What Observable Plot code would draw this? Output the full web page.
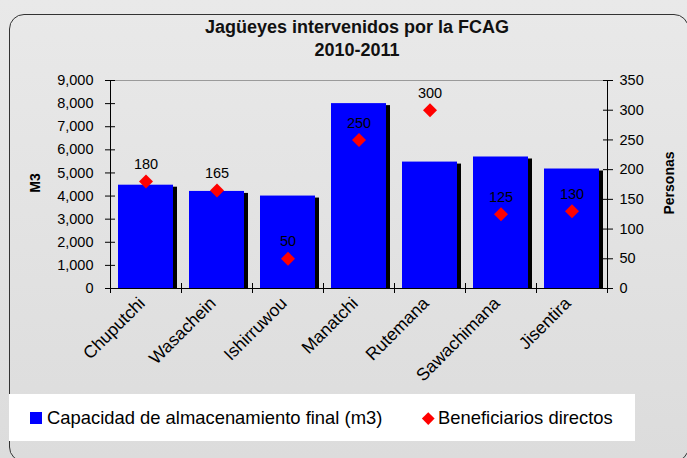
<!DOCTYPE html>
<html>
<head>
<meta charset="utf-8">
<script src="https://cdn.jsdelivr.net/npm/d3@7"></script>
<script src="https://cdn.jsdelivr.net/npm/@observablehq/plot@0.6"></script>
<style>
  body { margin: 0; }
  #page { position: relative; width: 687px; height: 458px; overflow: hidden;
          background: linear-gradient(#e9e9e9, #dcdcdc);
          font-family: "Liberation Sans", Arial, sans-serif; color: #000; }
  #frame { position: absolute; left: 9px; top: 14px; width: 680px; height: 448px;
           border: 1px solid #333; border-radius: 15px; box-sizing: border-box; }
  #title { position: absolute; left: 0; top: 16px; width: 714px; text-align: center;
           font-weight: bold; font-size: 18px; line-height: 23px; color: #111; }
  #chart { position: absolute; left: 0; top: 0; }
  .ylab { position: absolute; font-weight: bold; font-size: 14px; white-space: nowrap;
          transform: translate(-50%, -50%) rotate(-90deg); }
  #legend { position: absolute; left: 9px; top: 394px; width: 626px; height: 47px; background: #fff; }
  #legend span.t { position: absolute; top: 0; line-height: 47px; font-size: 18.4px; white-space: nowrap; }
  #legend .sq { position: absolute; left: 21px; top: 18px; width: 12px; height: 12px; background: #0000ff; }
  #legend .di { position: absolute; left: 415px; top: 20px; width: 8.5px; height: 8.5px; background: #ff0000; transform: rotate(45deg); }
</style>
</head>
<body>
<div id="page">
  <div id="frame"></div>
  <div id="title"></div>
  <div id="chart"></div>
  <div class="ylab" id="ylabL" style="left:35px; top:183px;"></div>
  <div class="ylab" id="ylabR" style="left:669px; top:183px;"></div>
  <div id="legend">
    <div class="sq"></div><span class="t" id="leg1" style="left:38px;"></span>
    <div class="di"></div><span class="t" id="leg2" style="left:429px;"></span>
  </div>
</div>
<script>
const titleLines = ["Jagüeyes intervenidos por la FCAG", "2010-2011"];
const categories = ["Chuputchi", "Wasachein", "Ishirruwou", "Manatchi", "Rutemana", "Sawachimana", "Jisentira"];
const capacidad = [4470, 4200, 4000, 8000, 5470, 5690, 5170];
const beneficiarios = [180, 165, 50, 250, 300, 125, 130];
const ticksM3 = [0, 1000, 2000, 3000, 4000, 5000, 6000, 7000, 8000, 9000];
const ticksPersonas = [0, 50, 100, 150, 200, 250, 300, 350];
const axisTitles = ["M3", "Personas"];
const legendLabels = ["Capacidad de almacenamiento final (m3)", "Beneficiarios directos"];

document.getElementById("title").innerHTML = titleLines.join("<br>");
document.getElementById("ylabL").textContent = axisTitles[0];
document.getElementById("ylabR").textContent = axisTitles[1];
document.getElementById("leg1").textContent = legendLabels[0];
document.getElementById("leg2").textContent = legendLabels[1];

const m3Max = ticksM3[ticksM3.length - 1];
const personasMax = ticksPersonas[ticksPersonas.length - 1];
const toM3 = p => p * m3Max / personasMax;
const rows = categories.map((name, i) => ({name, i, cap: capacidad[i], ben: beneficiarios[i]}));
const n = categories.length;

const chart = Plot.plot({
  width: 687,
  height: 390,
  marginTop: 80,
  marginLeft: 110,
  marginRight: 80,
  marginBottom: 102,
  style: {background: "transparent", fontFamily: "'Liberation Sans', Arial, sans-serif", fontSize: "14px", color: "#000", overflow: "visible"},
  x: {domain: [0, n], axis: null},
  y: {domain: [0, m3Max], axis: null},
  marks: [
    Plot.ruleY([m3Max], {stroke: "#9a9a9a"}),
    Plot.rect(rows, {x1: "i", x2: d => d.i + 1, y1: 0, y2: "cap", insetLeft: 11, insetRight: 4, insetTop: 2, fill: "#000"}),
    Plot.rect(rows, {x1: "i", x2: d => d.i + 1, y1: 0, y2: "cap", insetLeft: 8, insetRight: 8, fill: "#0000ff"}),
    Plot.ruleX([0, n], {y1: 0, y2: m3Max, stroke: "#000"}),
    Plot.ruleY([0], {stroke: "#000"}),
    Plot.axisY(ticksM3, {anchor: "left", tickSize: 10, dx: 5, tickFormat: () => "", label: null}),
    Plot.axisY(ticksM3, {anchor: "left", tickSize: 0, tickPadding: 17, tickFormat: d3.format(","), fontSize: 14.5, label: null}),
    Plot.axisY(ticksPersonas.map(toM3), {anchor: "right", tickSize: 10, dx: -5, tickFormat: () => "", label: null}),
    Plot.axisY(ticksPersonas.map(toM3), {anchor: "right", tickSize: 0, tickPadding: 12, tickFormat: v => String(Math.round(v * personasMax / m3Max)), fontSize: 14.5, label: null}),
    Plot.axisX(d3.range(n + 1), {anchor: "bottom", tickSize: 10, dy: -5, tickFormat: () => "", label: null}),
    Plot.axisX(rows.map(d => d.i + 0.5), {anchor: "bottom", tickSize: 0, tickPadding: 12, dx: -4, tickRotate: -45, tickFormat: v => categories[Math.floor(v)], fontSize: 17.5, label: null}),
    Plot.dot(rows, {x: d => d.i + 0.5, y: d => toM3(d.ben), symbol: "diamond2", r: 6.3, fill: "#ff0000"}),
    Plot.text(rows, {x: d => d.i + 0.5, y: d => toM3(d.ben), text: d => String(d.ben), dy: -17, fontSize: 14.5, fill: "#000"})
  ]
});
document.getElementById("chart").appendChild(chart);
</script>
</body>
</html>
